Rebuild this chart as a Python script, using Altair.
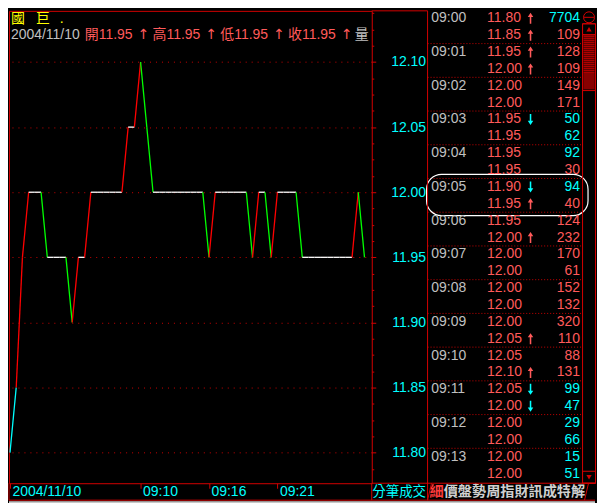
import altair as alt
import pandas as pd

# ---------------- data ----------------
trade_price = [11.80, 11.85, 11.95, 12.00, 12.00, 12.00, 11.95, 11.95, 11.95, 11.95,
               11.90, 11.95, 11.95, 12.00, 12.00, 12.00, 12.00, 12.00, 12.00, 12.05,
               12.05, 12.10, 12.05, 12.00, 12.00, 12.00, 12.00, 12.00, 12.00, 12.00,
               12.00, 12.00, 11.95, 12.00, 12.00, 12.00, 12.00, 12.00, 12.00, 11.95,
               12.00, 12.00, 11.95, 12.00, 12.00, 12.00, 12.00, 11.95, 11.95, 11.95,
               11.95, 11.95, 11.95, 11.95, 11.95, 11.95, 12.00, 11.95]
y_major = [11.80, 11.85, 11.90, 11.95, 12.00, 12.05, 12.10]
y_minor = [11.7875, 11.8125, 11.825, 11.8375, 11.8625, 11.875, 11.8875, 11.9125,
           11.925, 11.9375, 11.9625, 11.975, 11.9875, 12.0125, 12.025, 12.0375,
           12.0625, 12.075, 12.0875, 12.1125, 12.125, 12.1375]
x_tick_idx = [0, 21, 32, 43]
x_tick_lab = ["2004/11/10", "09:10", "09:16", "09:21"]

stock_name = ["國", "巨", "."]
header_date = "2004/11/10"
ohlc_lab = ["開", "高", "低", "收"]
ohlc_val = [11.95, 11.95, 11.95, 11.95]
vol_lab = "量"

tbl_time = ["09:00", "", "09:01", "", "09:02", "", "09:03", "", "09:04", "",
            "09:05", "", "09:06", "", "09:07", "", "09:08", "", "09:09", "",
            "09:10", "", "09:11", "", "09:12", "", "09:13", ""]
tbl_price = ["11.80", "11.85", "11.95", "12.00", "12.00", "12.00", "11.95", "11.95",
             "11.95", "11.95", "11.90", "11.95", "11.95", "12.00", "12.00", "12.00",
             "12.00", "12.00", "12.00", "12.05", "12.05", "12.10", "12.05", "12.00",
             "12.00", "12.00", "12.00", "12.00"]
tbl_arrow = ["up", "up", "up", "up", "", "", "down", "", "", "", "down", "up", "",
             "up", "", "", "", "", "", "up", "", "up", "down", "down", "", "", "", ""]
tbl_vol = [7704, 109, 128, 109, 149, 171, 50, 62, 92, 30, 94, 40, 124, 232, 170, 61,
           152, 132, 320, 110, 88, 131, 99, 47, 29, 66, 15, 51]
tbl_side = ["S", "B", "B", "B", "B", "B", "S", "S", "S", "B", "S", "B", "B", "B",
            "B", "B", "B", "B", "B", "B", "B", "B", "S", "S", "S", "S", "S", "S"]
sep_rows = [1.5, 3.5, 5.5, 7.5, 9.5, 11.5, 13.5, 15.5, 17.5, 19.5, 21.5, 23.5, 25.5]
hl_rows = [9.25, 11.7]
tab_active = "細"
tab_rest = "價盤勢周指財訊成特解"
side_tab = "分筆成交"

# ---------------- style ----------------
RED = "#d40000"
GRID = "#c80000"
SALMON = "#ff5a5a"
CYAN = "#00ffff"
GRAY = "#c0c0c0"
YELLOW = "#ffff00"
LAT = "Liberation Sans"
CJK = "Noto Sans CJK TC"
MIX = "Liberation Sans, Noto Sans CJK TC"

W_MAIN, H, W_TBL, GAP = 364, 474, 169, 56
TOTAL_W = W_MAIN + GAP + W_TBL  # 589

ONE = alt.Data(values=[{"k": 0}])


def txt(s, x, y, color, size=14, font=MIX, align="left", weight="normal"):
    return alt.Chart(ONE).mark_text(
        text=s, align=align, baseline="middle", font=font, fontSize=size,
        color=color, fontWeight=weight
    ).encode(x=alt.value(x), y=alt.value(y))


def line(x, y, x2, y2, color=RED, width=1, dash=None):
    kw = dict(color=color, strokeWidth=width)
    if dash:
        kw["strokeDash"] = dash
    return alt.Chart(ONE).mark_rule(**kw).encode(
        x=alt.value(x), y=alt.value(y), x2=alt.value(x2), y2=alt.value(y2))


def box(x, y, x2, y2, stroke=RED, fill="transparent", sw=1, radius=0):
    return alt.Chart(ONE).mark_rect(
        stroke=stroke, fill=fill, strokeWidth=sw, cornerRadius=radius
    ).encode(x=alt.value(x), x2=alt.value(x2), y=alt.value(y), y2=alt.value(y2))


def sym(shape, x, y, size, color=RED, filled=True):
    return alt.Chart(ONE).mark_point(
        shape=shape, size=size, filled=filled, color=color, opacity=1, strokeWidth=1
    ).encode(x=alt.value(x), y=alt.value(y))


# ---------------- main price panel ----------------
rows = []
for i in range(1, len(trade_price)):
    p0, p1 = trade_price[i - 1], trade_price[i]
    if i == 1:
        c = CYAN
    elif p1 > p0:
        c = "#ff0000"
    elif p1 < p0:
        c = "#00ff00"
    else:
        c = "#ffffff"
    rows.append({"i0": i - 1, "i1": i, "p0": p0, "p1": p1, "c": c})
seg = pd.DataFrame(rows)

xscale = alt.Scale(domain=[-0.16, 58.17], nice=False, zero=False)
yscale = alt.Scale(domain=[11.7765, 12.1393], nice=False, zero=False)

expr = "'%s'" % x_tick_lab[-1]
for idx, lab in reversed(list(zip(x_tick_idx[:-1], x_tick_lab[:-1]))):
    expr = f"datum.value == {idx} ? '{lab}' : {expr}"

xaxis = alt.Axis(values=x_tick_idx, labelExpr=expr, labelAlign="left", labelOffset=2,
                 labelBaseline="middle", labelPadding=3.5, labelColor=CYAN,
                 labelFont=LAT, labelFontSize=14, tickSize=5, tickColor=RED,
                 domain=False, grid=False, title=None, labelFlush=False,
                 labelOverlap=False)
yaxis = alt.Axis(orient="right", values=y_major, format=".2f", labelColor=CYAN,
                 labelFont=LAT, labelFontSize=14, labelAlign="right",
                 labelBaseline="middle", labelPadding=50, tickSize=4, tickColor=RED,
                 domain=False, grid=True, gridColor=GRID, gridDash=[1, 5],
                 gridWidth=1, title=None, labelFlush=False, labelOverlap=False)

price_line = alt.Chart(seg).mark_rule(strokeWidth=1.3).encode(
    x=alt.X("i0:Q", scale=xscale, axis=xaxis),
    x2="i1",
    y=alt.Y("p0:Q", scale=yscale, axis=yaxis),
    y2="p1",
    color=alt.Color("c:N", scale=None),
)

minor = alt.Chart(pd.DataFrame({"v": y_minor})).mark_point(opacity=0).encode(
    y=alt.Y("v:Q", scale=yscale,
            axis=alt.Axis(orient="right", values=y_minor, labels=False, domain=False,
                          grid=False, tickSize=2, tickColor=RED, title=None))
)

main_ann = [
    txt(stock_name[0], 2, 8, YELLOW, font=CJK),
    txt(stock_name[1], 27, 8, YELLOW, font=CJK),
    txt(stock_name[2], 51, 8, YELLOW, font=LAT),
    txt(header_date, 2, 24.5, GRAY, font=LAT),
]
for k, (lab, val) in enumerate(zip(ohlc_lab, ohlc_val)):
    x0 = 76 + 68 * k
    main_ann.append(txt(f"{lab}{val:.2f}", x0, 24.5, SALMON))
    main_ann.append(txt("↑", x0 + 59, 24.5, SALMON, font="DejaVu Sans", align="center"))
main_ann.append(txt(vol_lab, 347, 24.5, GRAY, font=CJK))
# bottom strip frame
main_ann += [
    line(0, H, 0, 491),
    line(0, 491, TOTAL_W - 1, 491),
    box(0, 492, TOTAL_W - 1, 495, stroke="transparent", fill="#c8c8c8"),
]

main = alt.layer(price_line, minor, *main_ann).resolve_axis(y="independent").properties(
    width=W_MAIN, height=H,
    view=alt.ViewBackground(stroke=RED, strokeWidth=1, fill="#000000"),
)

# ---------------- right trade table ----------------
tbl = pd.DataFrame({
    "r": list(range(len(tbl_time))),
    "t": tbl_time,
    "p": tbl_price,
    "a": tbl_arrow,
    "v": [str(v) for v in tbl_vol],
    "vc": [CYAN if s == "S" else SALMON for s in tbl_side],
})
rowscale = alt.Scale(domain=[-0.4433, 27.571], nice=False, zero=False, reverse=True)
ry = alt.Y("r:Q", scale=rowscale, axis=None)

UP = "M0,-1L0.5,-0.25L0.14,-0.25L0.14,1L-0.14,1L-0.14,-0.25L-0.5,-0.25Z"
DOWN = "M0,1L0.5,0.25L0.14,0.25L0.14,-1L-0.14,-1L-0.14,0.25L-0.5,0.25Z"

SB0, SB1 = 155.5, 168.5
SBC = (SB0 + SB1) / 2

t_time = alt.Chart(tbl).mark_text(align="left", baseline="middle", font=LAT,
                                  fontSize=14, color=GRAY).encode(
    x=alt.value(3.7), y=ry, text="t:N")
t_price = alt.Chart(tbl).mark_text(align="left", baseline="middle", font=LAT,
                                   fontSize=14, color=SALMON).encode(
    x=alt.value(59.7), y=ry, text="p:N")
t_up = alt.Chart(tbl).transform_filter("datum.a == 'up'").mark_point(
    shape=UP, filled=True, size=121, color=SALMON, opacity=1).encode(
    x=alt.value(103.3), y=ry)
t_down = alt.Chart(tbl).transform_filter("datum.a == 'down'").mark_point(
    shape=DOWN, filled=True, size=121, color=CYAN, opacity=1).encode(
    x=alt.value(103.3), y=ry)
t_vol = alt.Chart(tbl).mark_text(align="right", baseline="middle", font=LAT,
                                 fontSize=14).encode(
    x=alt.value(153), y=ry, text="v:N", color=alt.Color("vc:N", scale=None))
t_sep = alt.Chart(pd.DataFrame({"b": sep_rows})).mark_rule(
    color=GRID, strokeWidth=1, strokeDash=[1, 2]).encode(
    y=alt.Y("b:Q", scale=rowscale, axis=None), x=alt.value(0), x2=alt.value(SB0))
t_hl = alt.Chart(pd.DataFrame({"y0": [hl_rows[0]], "y1": [hl_rows[1]]})).mark_rect(
    fill="transparent", stroke="#ffffff", strokeWidth=1.2, cornerRadius=15).encode(
    y=alt.Y("y0:Q", scale=rowscale, axis=None), y2="y1",
    x=alt.value(-1), x2=alt.value(161))

tbl_ann = [
    # frame of the y-axis column and table
    line(0, 0, 0, 491),
    line(-56, 0, 0, 0),
    line(-56, H, -56, 491),
    line(-56, H, SB1, H),
    # scrollbar
    sym("circle", SBC, 6.5, 121, filled=False),
    line(SBC - 5, 6.5, SBC + 5, 6.5),
    box(SB0, 13, SB1, H),
    box(SB0, 13, SB1, 24),
    sym("triangle-up", SBC, 18.5, 28),
    box(SB0, 24, SB1, 80, fill="#3a0000"),
    line(SBC, 25, SBC, 79, color=RED, width=11, dash=[1, 1]),
    box(SB0, 462, SB1, H),
    sym("triangle-down", SBC, 468, 28),
    # bottom tabs
    txt(side_tab, -55.5, 483, CYAN, size=13.5, font=CJK),
    txt(tab_active, 2, 483, "#ff3c3c", size=14.2, font=CJK, weight="bold"),
    txt(tab_rest, 16.2, 483, "#cfcfcf", size=14.2, font=CJK, weight="bold"),
    line(0, 491, 4, H),
    line(SB0 + 2, 491, SB0 + 6, H),
]

table = alt.layer(t_sep, t_hl, t_time, t_price, t_up, t_down, t_vol, *tbl_ann).properties(
    width=W_TBL, height=H,
    view=alt.ViewBackground(stroke="transparent", fill="#000000"),
)

chart = alt.hconcat(main, table, spacing=GAP, bounds="flush").properties(
    padding=0
).configure(background="#000000")

chart.save("out.html", embed_options={"renderer": "svg", "actions": False})
